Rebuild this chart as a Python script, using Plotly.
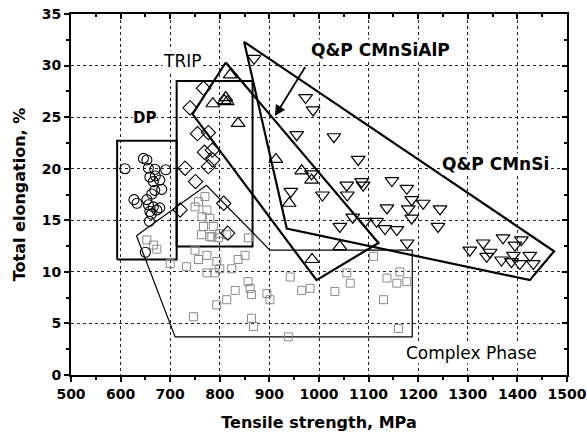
import plotly.graph_objects as go

# ---------------- data ----------------
dp_x = [609, 646, 653, 656, 669, 691, 659, 666, 679, 683, 669, 663, 627, 633, 653, 656, 666, 679, 659, 673, 658, 650, 662, 670]
dp_y = [20.0, 21.0, 20.85, 20.05, 19.95, 19.9, 19.2, 18.75, 18.9, 18.0, 17.9, 17.55, 17.0, 16.65, 17.0, 16.5, 16.3, 16.2, 15.85, 16.0, 14.9, 11.9, 15.6, 19.3]

trip_x = [767, 740, 755, 777, 769, 785, 786, 777, 730, 751, 720, 808, 816]
trip_y = [27.8, 25.9, 23.4, 23.5, 21.6, 21.8, 20.85, 20.2, 20.05, 18.75, 16.0, 16.65, 13.75]

cp_x = [653, 666, 673, 750, 763, 780, 797, 814, 774, 757, 733, 700, 794, 800, 774, 790, 824, 837, 851,
        857, 861, 864, 831, 814, 794, 747, 864, 868, 895, 901, 942, 965, 982, 1032, 938, 1056, 1063,
        1110, 1130, 1137, 1157, 1163, 1177, 1160, 770, 757, 750, 774, 764, 780, 767, 787, 784, 800, 858]
cp_y = [13.1, 12.6, 12.2, 12.1, 13.6, 13.4, 13.3, 13.6, 11.6, 11.2, 10.5, 10.8, 11.0, 10.3, 9.9, 9.9, 10.3, 11.2, 11.6,
        9.05, 8.4, 7.8, 8.2, 7.3, 6.8, 5.65, 5.5, 4.7, 7.9, 7.3, 9.5, 8.2, 8.4, 8.1, 3.7, 9.9, 8.9,
        11.5, 7.3, 9.4, 8.9, 10.0, 9.05, 4.5, 17.3, 16.8, 16.3, 16.0, 15.35, 15.2, 14.4, 14.4, 13.4, 13.7, 13.3]

alp_x = [821, 786, 809, 815, 812, 837, 913, 965, 985, 940, 1042, 986]
alp_y = [29.1, 26.3, 26.6, 26.5, 26.9, 24.4, 20.9, 19.8, 18.9, 16.65, 12.45, 11.2]

si_x = [869, 973, 988, 955, 1030, 1079, 943, 985, 1007, 1056, 1057, 1086, 1089, 1147, 1177, 1187, 1210, 1244,
        1137, 1180, 1187, 1068, 1093, 1116, 1133, 1157, 1042, 1178, 1240, 1304, 1331, 1338, 1371, 1395,
        1408, 1368, 1388, 1392, 1405, 1425, 1432, 1345]
si_y = [30.7, 26.9, 25.7, 23.3, 23.1, 20.9, 17.8, 19.5, 17.45, 18.4, 17.45, 18.75, 18.4, 18.85, 18.1, 17.0, 16.65, 16.1,
        16.2, 16.1, 15.2, 15.3, 14.9, 14.9, 14.2, 14.1, 14.4, 12.8, 14.4, 12.1, 12.8, 11.5, 13.3, 12.6,
        13.1, 11.15, 11.0, 11.6, 10.8, 11.6, 10.8, 11.9]

# region outlines (data coordinates)
dp_box_x = [593, 713, 713, 593, 593]
dp_box_y = [11.2, 11.2, 22.7, 22.7, 11.2]
trip_box_x = [713, 866, 866, 713, 713]
trip_box_y = [12.45, 12.45, 28.5, 28.5, 12.45]
cp_poly_x = [632, 773, 901, 1188, 1188, 710, 632]
cp_poly_y = [13.5, 18.4, 12.1, 12.1, 3.7, 3.7, 13.5]
alp_poly_x = [812, 1120, 995, 745, 812]
alp_poly_y = [30.3, 12.8, 9.2, 25.3, 30.3]
si_poly_x = [849, 1474, 1425, 935, 849]
si_poly_y = [32.3, 12.0, 9.2, 14.2, 32.3]

x_ticks = [500, 600, 700, 800, 900, 1000, 1100, 1200, 1300, 1400, 1500]
y_ticks = [0, 5, 10, 15, 20, 25, 30, 35]

FONT = "DejaVu Sans, Liberation Sans, Arial"

fig = go.Figure()

def outline(xs, ys, w):
    fig.add_trace(go.Scatter(x=xs, y=ys, mode="lines", line=dict(color="black", width=w),
                             showlegend=False, hoverinfo="skip"))

outline(cp_poly_x, cp_poly_y, 1.2)
outline(dp_box_x, dp_box_y, 2)
outline(trip_box_x, trip_box_y, 2)
outline(alp_poly_x, alp_poly_y, 2.2)
outline(si_poly_x, si_poly_y, 2.2)

def pts(xs, ys, sym, size, color, lw):
    fig.add_trace(go.Scatter(x=xs, y=ys, mode="markers",
                             marker=dict(symbol=sym, size=size, color=color, line=dict(width=lw, color=color)),
                             showlegend=False))

pts(cp_x, cp_y, "square-open", 8, "#8a8a8a", 1)
pts(dp_x, dp_y, "circle-open", 10, "black", 1.1)
pts(trip_x, trip_y, "diamond-open", 11, "black", 1.1)
pts(alp_x, alp_y, "triangle-up-open", 12, "black", 1.2)
pts(si_x, si_y, "triangle-down-open", 12, "black", 1.2)

# dummy trace for top/right mirror axes
fig.add_trace(go.Scatter(x=[None], y=[None], xaxis="x2", yaxis="y2", showlegend=False, hoverinfo="skip"))

common = dict(showline=True, linewidth=2, linecolor="black", zeroline=False, automargin=False)

fig.update_layout(
    width=587, height=436,
    margin=dict(l=71, r=20, t=14, b=61),
    paper_bgcolor="white", plot_bgcolor="white",
    font=dict(family=FONT, color="black"),
    xaxis=dict(range=[500, 1500], tickvals=x_ticks, ticks="outside", ticklen=5, tickwidth=2, tickcolor="black",
               showgrid=True, gridcolor="#222", griddash="dot", gridwidth=1,
               tickfont=dict(size=14, weight="bold", family=FONT),
               minor=dict(dtick=50, ticks="outside", ticklen=3, tickwidth=1.5, tickcolor="black", showgrid=False),
               title=dict(text="Tensile strength, MPa", font=dict(size=16, weight="bold", family=FONT), standoff=16),
               **common),
    yaxis=dict(range=[0, 35], tickvals=y_ticks, ticks="outside", ticklen=5, tickwidth=2, tickcolor="black",
               showgrid=True, gridcolor="#222", griddash="dot", gridwidth=1,
               tickfont=dict(size=14, weight="bold", family=FONT),
               minor=dict(dtick=2.5, ticks="outside", ticklen=3, tickwidth=1.5, tickcolor="black", showgrid=False),
               title=dict(text="Total elongation, %", font=dict(size=16, weight="bold", family=FONT), standoff=12),
               **common),
    xaxis2=dict(range=[500, 1500], overlaying="x", side="top", tickvals=x_ticks, ticks="inside", ticklen=5,
                tickwidth=2, tickcolor="black", showticklabels=False, showgrid=False,
                minor=dict(dtick=50, ticks="inside", ticklen=3, tickwidth=1.5, tickcolor="black"), **common),
    yaxis2=dict(range=[0, 35], overlaying="y", side="right", tickvals=y_ticks, ticks="inside", ticklen=5,
                tickwidth=2, tickcolor="black", showticklabels=False, showgrid=False,
                minor=dict(dtick=2.5, ticks="inside", ticklen=3, tickwidth=1.5, tickcolor="black"), **common),
)

def label(text, x, y, size, bold):
    fig.add_annotation(x=x, y=y, text=text, showarrow=False, xref="x", yref="y",
                       font=dict(size=size, family=FONT, color="black", weight="bold" if bold else "normal"),
                       bgcolor="white", borderpad=0)

label("DP", 649, 24.9, 15, True)
label("TRIP", 724, 30.4, 17, False)
label("Q&P CMnSiAlP", 1123, 31.5, 17, True)
label("Q&P CMnSi", 1355, 20.5, 17, True)
label("Complex Phase", 1308, 2.1, 17, False)

fig.add_annotation(x=911, y=25.1, ax=974, ay=30.0, axref="x", ayref="y", xref="x", yref="y",
                   text="", showarrow=True, arrowhead=2, arrowsize=1.2, arrowwidth=1.8, arrowcolor="black")

fig.write_html("out.html")
